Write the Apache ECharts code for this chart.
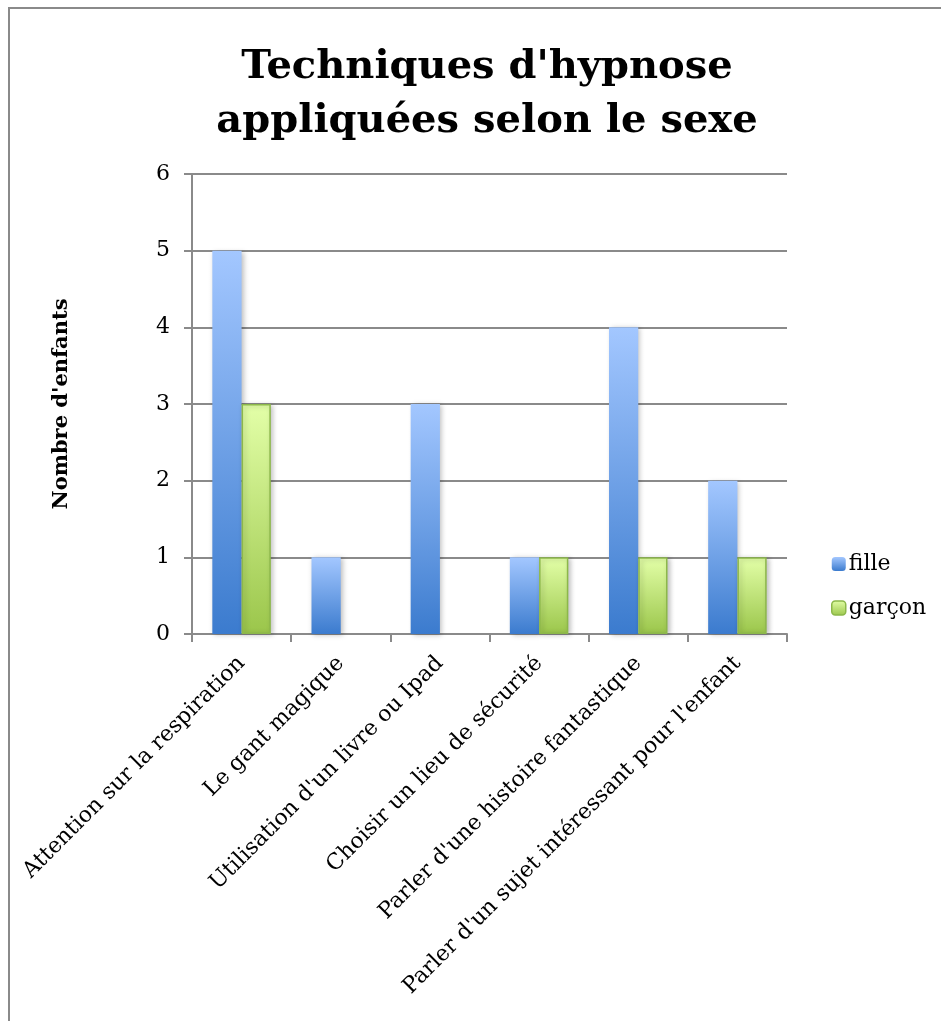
<!DOCTYPE html>
<html>
<head>
<meta charset="utf-8">
<script src="https://cdn.jsdelivr.net/npm/echarts@6/dist/echarts.min.js"></script>
<style>
  html, body { margin: 0; padding: 0; background: #fff; }
  #chart { width: 941px; height: 1021px; }
</style>
</head>
<body>
<div id="chart"></div>
<script>
// Techniques d'hypnose par sexe de l'enfant
const categories = [
  "Attention sur la respiration",
  "Le gant magique",
  "Utilisation d'un livre ou Ipad",
  "Choisir un lieu de sécurité",
  "Parler d'une histoire fantastique",
  "Parler d'un sujet intéressant pour l'enfant"
];
const filleValues = [5, 1, 3, 1, 4, 2];
const garconValues = [3, 0, 0, 1, 1, 1];
const yTicks = [0, 1, 2, 3, 4, 5, 6];

const FONT = "'DejaVu Serif', 'Liberation Serif', serif";

function vgrad(top, bottom) {
  return {
    type: 'linear', x: 0, y: 0, x2: 0, y2: 1,
    colorStops: [{ offset: 0, color: top }, { offset: 1, color: bottom }]
  };
}
const filleFill = vgrad('#a3c7ff', '#3b7bce');
const garconFill = vgrad('#e3ffa8', '#9bc64b');

// empty counts leave no bar at all
const asBars = arr => arr.map(v => (v === 0 ? '-' : v));

const chart = echarts.init(document.getElementById('chart'), null, { renderer: 'canvas' });
chart.setOption({
  backgroundColor: '#ffffff',
  animation: false,
  title: {
    text: "Techniques d'hypnose\nappliquées selon le sexe",
    left: 482,
    top: 36,
    textAlign: 'center',
    textStyle: {
      fontFamily: FONT, fontWeight: 'bold', fontSize: 40,
      lineHeight: 54, color: '#000'
    }
  },
  legend: {
    orient: 'vertical',
    left: 826,
    top: 548,
    itemWidth: 14,
    itemHeight: 14,
    itemGap: 22,
    textStyle: { fontFamily: FONT, fontSize: 22, color: '#000', padding: [0, 0, 0, -2] },
    data: [
      { name: 'fille', itemStyle: { color: filleFill, borderWidth: 0 } },
      { name: 'garçon', itemStyle: { color: garconFill, borderColor: '#8cb84a', borderWidth: 1.5 } }
    ]
  },
  grid: { left: 192, right: 154, top: 174, bottom: 387, containLabel: false },
  xAxis: {
    type: 'category',
    data: categories,
    axisLine: { lineStyle: { color: '#8a8a8a', width: 2 } },
    axisTick: { show: true, length: 8, lineStyle: { color: '#8a8a8a', width: 2 } },
    axisLabel: {
      rotate: 45, interval: 0, margin: 26,
      fontFamily: FONT, fontSize: 22, color: '#000'
    }
  },
  yAxis: {
    type: 'value',
    min: yTicks[0],
    max: yTicks[yTicks.length - 1],
    interval: 1,
    name: "Nombre d'enfants",
    nameLocation: 'middle',
    nameRotate: 90,
    nameGap: 120,
    nameTextStyle: { fontFamily: FONT, fontSize: 21, fontWeight: 'bold', color: '#000' },
    axisLine: { show: true, lineStyle: { color: '#8a8a8a', width: 2 } },
    axisTick: { show: true, length: 8, lineStyle: { color: '#8a8a8a', width: 2 } },
    axisLabel: { margin: 22, fontFamily: FONT, fontSize: 22, color: '#000' },
    splitLine: { show: true, lineStyle: { color: '#8a8a8a', width: 2 } }
  },
  series: [
    {
      name: 'fille',
      type: 'bar',
      data: asBars(filleValues),
      barGap: '0%',
      barCategoryGap: '41%',
      itemStyle: {
        color: filleFill,
        shadowBlur: 5, shadowColor: 'rgba(0,0,0,0.25)', shadowOffsetX: 2, shadowOffsetY: 1
      }
    },
    {
      name: 'garçon',
      type: 'bar',
      data: asBars(garconValues),
      itemStyle: {
        color: garconFill, borderColor: '#8cb84a', borderWidth: 1.5,
        shadowBlur: 5, shadowColor: 'rgba(0,0,0,0.25)', shadowOffsetX: 2, shadowOffsetY: 1
      }
    }
  ],
  graphic: [
    {
      type: 'polyline',
      shape: { points: [[9, 1021], [9, 8], [941, 8]] },
      style: { stroke: '#8a8a8a', lineWidth: 2, fill: null },
      silent: true
    }
  ]
});
</script>
</body>
</html>
